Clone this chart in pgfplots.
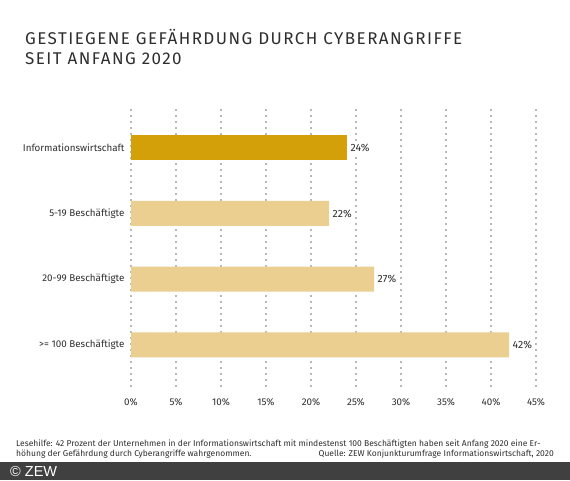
\documentclass[border=0pt]{standalone}
\usepackage{fontspec}
\setmainfont{Fira Sans}
\newfontfamily\titlefont[LetterSpace=8.5]{Fira Sans}
\newfontfamily\zewfont{Liberation Sans}
\usepackage{pgfplots}
\pgfplotsset{compat=1.18}
\definecolor{darkbar}{HTML}{D4A00A}
\definecolor{lightbar}{HTML}{EBCF91}
\definecolor{txt}{HTML}{2E2E2E}
\definecolor{gridc}{HTML}{B8B8B8}
\definecolor{footer}{HTML}{404040}

\begin{document}
\begin{tikzpicture}[x=1pt,y=1pt]
\useasboundingbox (0,0) rectangle (570,480);
\fill[footer] (0,0) rectangle (570,18);
\node[anchor=base west,text=white,inner sep=0pt] at (10,3.5) {\zewfont\fontsize{14.5}{16}\selectfont © ZEW};
% title
\node[anchor=base west,inner sep=0pt,text=txt] at (25,435) {\titlefont\fontsize{17}{20}\selectfont GESTIEGENE GEFÄHRDUNG DURCH CYBERANGRIFFE};
\node[anchor=base west,inner sep=0pt,text=txt] at (25,415) {\titlefont\fontsize{17}{20}\selectfont SEIT ANFANG 2020};
% footnote
\node[anchor=base west,inner sep=0pt,text=txt] at (16,34) {\fontsize{8.5}{10}\selectfont Lesehilfe: 42 Prozent der Unternehmen in der Informationswirtschaft mit mindestenst 100 Beschäftigten haben seit Anfang 2020 eine Er-};
\node[anchor=base west,inner sep=0pt,text=txt] at (16,23.5) {\fontsize{8.5}{10}\selectfont höhung der Gefährdung durch Cyberangriffe wahrgenommen.};
\node[anchor=base east,inner sep=0pt,text=txt] at (554,23.5) {\fontsize{8.5}{10}\selectfont Quelle: ZEW Konjunkturumfrage Informationswirtschaft, 2020};

\begin{axis}[
    at={(131pt,93pt)}, anchor=south west,
    width=405pt, height=278pt, scale only axis,
    xmin=0, xmax=45, ymin=-0.64, ymax=3.59,
    axis line style={draw=none},
    major tick length=0pt,
    xtick={0,5,...,45},
    xticklabel={\pgfmathprintnumber{\tick}\%},
    ytick={0,1,2,3},
    yticklabels={>= 100 Beschäftigte,20-99 Beschäftigte,5-19 Beschäftigte,Informationswirtschaft},
    ticklabel style={font=\fontsize{9.8}{11}\selectfont, text=txt},
    /pgf/number format/assume math mode=true,
    y tick label style={xshift=-3pt},
    x tick label style={yshift=-8pt},
    xmajorgrids,
    grid style={gridc, line width=1.6pt, dash pattern=on 1.6pt off 4.4pt},
    xbar, bar width=25pt, bar shift=0pt,
    nodes near coords={\pgfmathprintnumber{\pgfplotspointmeta}\%},
    nodes near coords style={font=\fontsize{10.5}{12}\selectfont, text=txt, fill=white, inner sep=1.5pt, anchor=west, xshift=2pt},
    point meta=explicit,
]
\addplot[fill=darkbar, draw=none] coordinates {(24,3) [24]};
\addplot[fill=lightbar, draw=none] coordinates {(22,2) [22] (27,1) [27] (42,0) [42]};
\end{axis}
\end{tikzpicture}
\end{document}
